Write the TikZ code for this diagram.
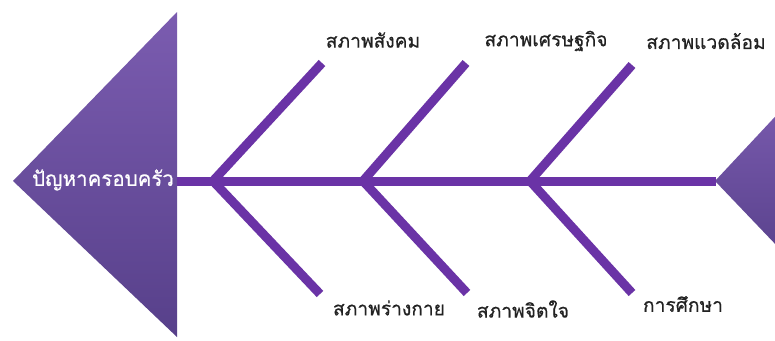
\documentclass[tikz,border=0pt]{standalone}
\usepackage{fontspec}
\newfontfamily\thaifont[Script=Thai,FakeBold=0.6]{Loma}
\definecolor{bone}{HTML}{6A33A6}
\definecolor{tritop}{HTML}{7B5CB0}
\definecolor{tribot}{HTML}{57408A}
\definecolor{labtext}{HTML}{222222}
\tikzset{
  bonestyle/.style={draw=bone, line width=9pt, line cap=butt},
  lab/.style={font=\thaifont\fontsize{19.2}{22}\selectfont, text=labtext, inner sep=0pt},
  headlab/.style={font=\thaifont\fontsize{20.5}{22}\selectfont, text=white, inner sep=0pt},
}
\begin{document}
\begin{tikzpicture}[x=1pt,y=-1pt]
\clip (0,0) rectangle (775,340);
\fill[white] (0,0) rectangle (775,340);
% head triangle (left) and tail triangle (right)
\shade[top color=tritop, bottom color=tribot] (13,181) -- (177,12) -- (177,337) -- cycle;
\shade[top color=tritop, bottom color=tribot] (715,181) -- (800,90) -- (800,270) -- cycle;
\node[headlab] (head) at (103,180) {ปัญหาครอบครัว};
% spine
\coordinate (s0) at (177,181);
\coordinate (s1) at (716,181);
\coordinate (j1) at (213,181);
\coordinate (j2) at (363,181);
\coordinate (j3) at (530,181);
\draw[bonestyle] (s0) -- (s1);
% branch ends
\coordinate (u1) at (322,63);
\coordinate (u2) at (466,63);
\coordinate (u3) at (632,65);
\coordinate (d1) at (320,294);
\coordinate (d2) at (467,293);
\coordinate (d3) at (632,293);
\draw[bonestyle] (j1) -- (u1);
\draw[bonestyle] (j2) -- (u2);
\draw[bonestyle] (j3) -- (u3);
\draw[bonestyle] (j1) -- (d1);
\draw[bonestyle] (j2) -- (d2);
\draw[bonestyle] (j3) -- (d3);
% labels
\node[lab] (l1) at (373,40) {สภาพสังคม};
\node[lab] (l2) at (546,41) {สภาพเศรษฐกิจ};
\node[lab] (l3) at (706,41) {สภาพแวดล้อม};
\node[lab] (l4) at (389,308) {สภาพร่างกาย};
\node[lab] (l5) at (523,309) {สภาพจิตใจ};
\node[lab] (l6) at (683,304) {การศึกษา};
\end{tikzpicture}
\end{document}
